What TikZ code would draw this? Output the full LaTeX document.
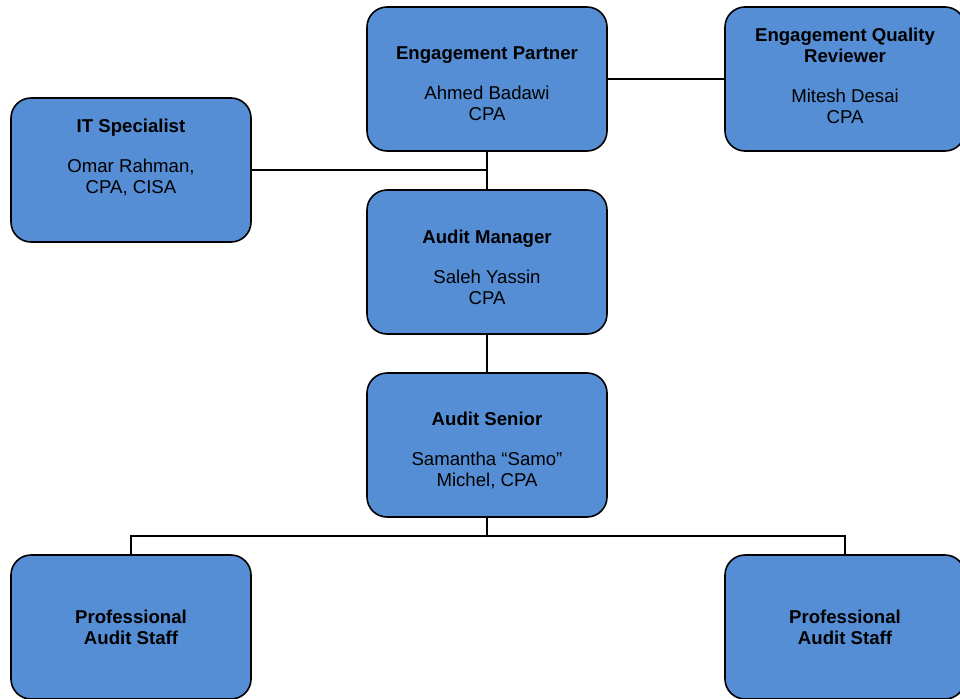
\documentclass[tikz,border=0pt]{standalone}
\usepackage{fontspec}
\setmainfont{Liberation Sans}
\definecolor{boxblue}{RGB}{85,142,213}
\newcommand{\tstrut}[1]{\rule{0pt}{#1}}
\begin{document}
\begin{tikzpicture}[x=1pt,y=-1pt,
  box/.style={draw=black, line width=1.6pt, fill=boxblue, rounded corners=20pt,
    minimum width=240pt, minimum height=144pt, align=center, inner sep=0pt,
    font=\fontsize{18.6}{21}\selectfont},
  conn/.style={draw=black, line width=1.5pt}]
\useasboundingbox (0,0) rectangle (960,698);
\node[box] (ep) at (487,79) {\tstrut{22pt}\textbf{Engagement Partner}\\[19pt]Ahmed Badawi\\CPA};
\node[box] (eqr) at (845,79) {\textbf{Engagement Quality}\\\textbf{Reviewer}\\[19pt]Mitesh Desai\\CPA\rule[-6pt]{0pt}{0pt}};
\node[box] (it) at (131,170) {\textbf{IT Specialist}\\[19pt]Omar Rahman,\\CPA, CISA\\[7pt]~};
\node[box] (am) at (487,262) {\tstrut{24pt}\textbf{Audit Manager}\\[19pt]Saleh Yassin\\CPA};
\node[box] (as) at (487,445) {\tstrut{25pt}\textbf{Audit Senior}\\[19pt]Samantha “Samo”\\Michel, CPA};
\node[box] (ps1) at (131,627) {\textbf{Professional}\\\textbf{Audit Staff}};
\node[box] (ps2) at (845,627) {\textbf{Professional}\\\textbf{Audit Staff}};
\coordinate (bus) at (487,536);
\draw[conn] (ep.south) -- (am.north);
\draw[conn] (it.east) -- (it.east -| ep.south);
\draw[conn] (ep.east) -- (eqr.west);
\draw[conn] (am.south) -- (as.north);
\draw[conn] (as.south) -- (bus);
\draw[conn] (ps1.north) |- (bus) -| (ps2.north);
\end{tikzpicture}
\end{document}
